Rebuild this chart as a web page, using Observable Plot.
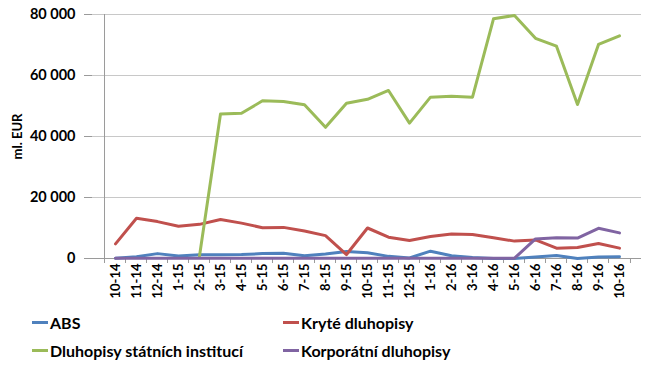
<!DOCTYPE html>
<html>
<head>
<meta charset="utf-8">
<script src="https://cdn.jsdelivr.net/npm/d3@7"></script>
<script src="https://cdn.jsdelivr.net/npm/@observablehq/plot@0.6"></script>
<style>
  body { margin: 0; background: #fff; font-family: Lato, "Open Sans", sans-serif; }
  #legend { position: relative; width: 652px; height: 60px; font-weight: bold; font-size: 16px; color: #000; }
  .item { position: absolute; display: flex; align-items: center; height: 20px; }
  .sw { width: 16px; height: 3px; margin-right: 2px; }
</style>
</head>
<body>
<div id="chart"></div>
<div id="legend"></div>
<script>
const months = ["10-14","11-14","12-14","1-15","2-15","3-15","4-15","5-15","6-15","7-15","8-15","9-15","10-15","11-15","12-15","1-16","2-16","3-16","4-16","5-16","6-16","7-16","8-16","9-16","10-16"];
const seriesNames = ["ABS", "Kryté dluhopisy", "Dluhopisy státních institucí", "Korporátní dluhopisy"];
const seriesColors = ["#4F81BD", "#C0504D", "#9BBB59", "#8064A2"];
const abs = [100,600,1600,800,1200,1200,1300,1600,1700,900,1500,2300,1900,700,200,2400,900,300,0,0,500,1000,0,500,600];
const kryte = [4800,13200,12100,10600,11200,12800,11600,10100,10200,9000,7500,1300,10000,7000,5900,7200,8000,7900,6800,5700,6100,3400,3600,4900,3400];
const statni = [null,null,null,null,800,47400,47600,51700,51500,50400,43000,50900,52200,55100,44400,52900,53200,52900,78600,79700,72200,69600,50500,70200,73000];
const korpor = [100,100,100,100,100,100,100,100,100,100,100,100,100,100,100,100,100,100,100,100,6400,6800,6700,9900,8400];
const yTicks = [0, 20000, 40000, 60000, 80000];

const allSeries = [abs, kryte, statni, korpor];
const data = [];
allSeries.forEach((vals, si) => vals.forEach((v, i) => {
  if (v != null) data.push({month: months[i], value: v, series: seriesNames[si]});
}));

const half = (641 - 92) / months.length / 2;
const fmt = d => d3.format(",")(d).replace(/,/g, " ");

const chart = Plot.plot({
  width: 652,
  height: 305,
  marginTop: 14,
  marginBottom: 47,
  marginLeft: 92,
  marginRight: 11,
  style: {fontFamily: "Lato", fontWeight: "bold", fontSize: "14px", color: "#000", background: "#fff"},
  x: {type: "point", domain: months, padding: 0.5},
  y: {domain: [0, 80000]},
  color: {domain: seriesNames, range: seriesColors},
  marks: [
    Plot.gridY(yTicks.slice(1), {stroke: "#c8c8c8", strokeOpacity: 1}),
    Plot.ruleX([months[0]], {dx: -half, stroke: "#9a9a9a"}),
    Plot.ruleY([0], {stroke: "#9a9a9a"}),
    Plot.axisX(months, {tickSize: 5, dx: -half, text: null, stroke: "#9a9a9a", label: null}),
    Plot.axisX([months[months.length - 1]], {tickSize: 5, dx: half, text: null, stroke: "#9a9a9a", label: null}),
    Plot.axisX({tickSize: 0, tickRotate: -90, tickPadding: 5, fontSize: 13, label: null}),
    Plot.axisY({ticks: yTicks, tickSize: 8, tickPadding: 9, tickFormat: fmt, stroke: "#9a9a9a", label: null, fontSize: 14.5}),
    Plot.text(["ml. EUR"], {frameAnchor: "left", textAnchor: "middle", dx: -75, rotate: -90, fontSize: 13, fontWeight: "bold"}),
    Plot.line(data, {x: "month", y: "value", z: "series", stroke: "series", strokeWidth: 3})
  ]
});
document.getElementById("chart").appendChild(chart);

const legendPos = [[32, 7], [283, 7], [32, 35], [283, 35]];
const legend = document.getElementById("legend");
seriesNames.forEach((name, i) => {
  const it = document.createElement("div");
  it.className = "item";
  it.style.left = legendPos[i][0] + "px";
  it.style.top = legendPos[i][1] + "px";
  const sw = document.createElement("span");
  sw.className = "sw";
  sw.style.background = seriesColors[i];
  const tx = document.createElement("span");
  tx.textContent = name;
  it.appendChild(sw);
  it.appendChild(tx);
  legend.appendChild(it);
});
</script>
</body>
</html>
